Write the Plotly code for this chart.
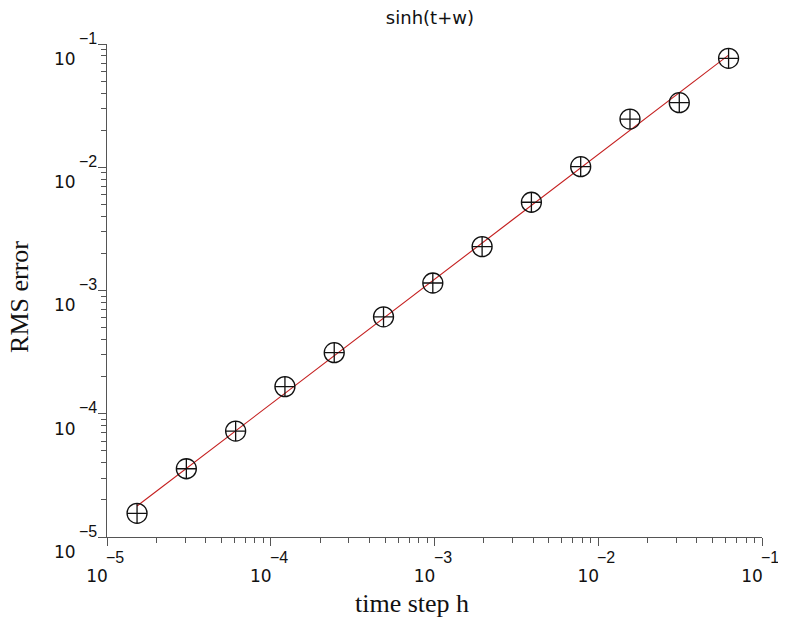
import numpy as np
import plotly.graph_objects as go

# data
step_exponents = [-16, -15, -14, -13, -12, -11, -10, -9, -8, -7, -6, -5, -4]
time_step = [2.0 ** e for e in step_exponents]
rms_error = [1.556e-5, 3.58e-5, 7.24e-5, 1.66e-4, 3.13e-4, 6.12e-4, 1.15e-3,
             2.27e-3, 5.20e-3, 1.01e-2, 2.46e-2, 3.34e-2, 7.65e-2]
tick_powers = [-5, -4, -3, -2, -1]
tick_values = [10.0 ** p for p in tick_powers]
tick_base = ["10"] * len(tick_powers)
tick_exponents = ["\u2212%d" % (-p) for p in tick_powers]

# least-squares fit in log-log space
slope, intercept = np.polyfit(np.log10(time_step), np.log10(rms_error), 1)
fit_x = np.array([time_step[0], time_step[-1]])
fit_y = 10 ** (intercept + slope * np.log10(fit_x))

fig = go.Figure()
fig.add_trace(go.Scatter(x=fit_x, y=fit_y, mode="lines",
                         line=dict(color="#c41e1e", width=1.1), showlegend=False))
fig.add_trace(go.Scatter(x=time_step, y=rms_error, mode="markers",
                         marker=dict(symbol="circle-cross-open", size=20,
                                     color="#111111", line=dict(width=1.3, color="#111111")),
                         showlegend=False))

TICK_FONT = dict(family="DejaVu Sans", size=17, color="#111111")
EXP_FONT = dict(family="Liberation Sans", size=16, color="#111111")
axis_common = dict(
    type="log",
    range=[-5, -1],
    tickvals=tick_values,
    ticktext=tick_base,
    ticks="outside",
    ticklen=8,
    tickwidth=1,
    tickcolor="#555555",
    showline=True,
    linecolor="#555555",
    linewidth=1,
    showgrid=False,
    zeroline=False,
    mirror=False,
    automargin=False,
    tickfont=TICK_FONT,
    minor=dict(ticks="outside", ticklen=5, tickcolor="#555555", dtick="D1", showgrid=False),
)

annotations = []
for p, e in zip(tick_powers, tick_exponents):
    # exponent of x tick label
    annotations.append(dict(text=e, xref="x", x=p, yref="paper", y=0,
                            xanchor="left", yanchor="top", xshift=-3, yshift=-10,
                            showarrow=False, font=EXP_FONT))
    # exponent of y tick label
    annotations.append(dict(text=e, xref="paper", x=0, yref="y", y=p,
                            xanchor="right", yanchor="middle", xshift=-8, yshift=6,
                            showarrow=False, font=EXP_FONT))

TITLE_FONT = dict(family="Liberation Serif", size=26, color="#111111")
annotations.append(dict(text="time step h", xref="paper", x=0.4656, yref="paper", y=0,
                        xanchor="center", yanchor="middle", yshift=-66,
                        showarrow=False, font=TITLE_FONT))
annotations.append(dict(text="RMS error", xref="paper", x=0, yref="paper", y=0.487,
                        xanchor="center", yanchor="middle", xshift=-87, textangle=-90,
                        showarrow=False, font=TITLE_FONT))

fig.update_layout(
    width=778, height=610,
    margin=dict(l=99, r=24, t=36, b=81),
    paper_bgcolor="white", plot_bgcolor="white",
    title=dict(text="sinh(t+w)", x=0.493, xanchor="center", xref="paper",
               y=1 - 10 / 610, yanchor="middle",
               font=dict(family="DejaVu Sans", size=18, color="#111111")),
    xaxis=dict(axis_common, ticklabelshift=-10, ticklabelstandoff=16),
    yaxis=dict(axis_common, ticklabelshift=15, ticklabelstandoff=19),
    annotations=annotations,
)

fig.write_html("out.html")
